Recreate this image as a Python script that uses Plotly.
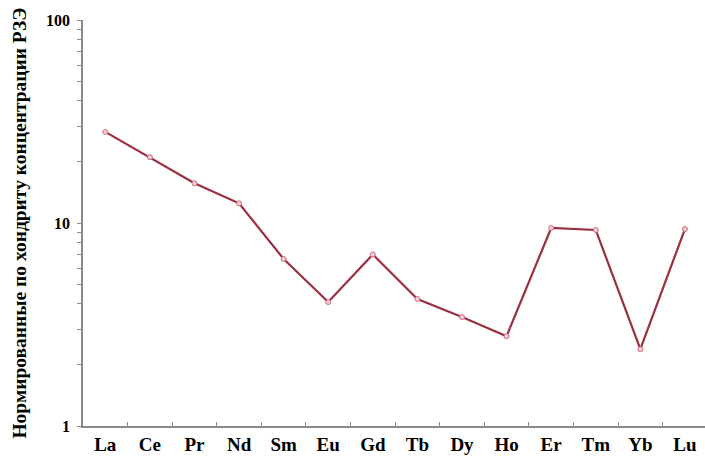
import plotly.graph_objects as go

# Rare earth elements, chondrite-normalised concentrations
elements = ["La", "Ce", "Pr", "Nd", "Sm", "Eu", "Gd", "Tb", "Dy", "Ho", "Er", "Tm", "Yb", "Lu"]
normalized = [28.1, 21.1, 15.7, 12.5, 6.65, 4.08, 7.0, 4.22, 3.44, 2.77, 9.45, 9.24, 2.39, 9.34]

# log-axis ticks: labels only on the decades
y_tickvals = [1, 2, 3, 4, 5, 6, 7, 8, 9, 10, 20, 30, 40, 50, 60, 70, 80, 90, 100]
y_ticktext = ["1", "", "", "", "", "", "", "", "", "10", "", "", "", "", "", "", "", "", "100"]

y_title = "Нормированные по хондриту концентрации РЗЭ"

serif = "Liberation Serif, Times New Roman, serif"
axis_grey = "#8a8a8a"

fig = go.Figure()
fig.add_trace(go.Scatter(
    x=elements,
    y=normalized,
    mode="lines+markers",
    line=dict(color="#9a2f40", width=2.2),
    marker=dict(size=5, color="#f4cdd2", line=dict(color="#c8707e", width=1)),
    showlegend=False,
))

fig.update_layout(
    width=705,
    height=465,
    margin=dict(l=83, r=0, t=20, b=39),
    paper_bgcolor="white",
    plot_bgcolor="white",
    font=dict(family=serif, color="black"),
    xaxis=dict(
        type="category",
        range=[-0.5, 13.45],
        showgrid=False,
        zeroline=False,
        showline=True,
        linecolor=axis_grey,
        linewidth=1.5,
        ticks="inside",
        tickson="boundaries",
        ticklen=4,
        tickcolor=axis_grey,
        tickfont=dict(family=serif, size=19, color="black", weight="bold"),
    ),
    yaxis=dict(
        type="log",
        range=[0, 2],
        showgrid=False,
        zeroline=False,
        showline=True,
        linecolor=axis_grey,
        linewidth=1.5,
        ticks="outside",
        ticklen=4,
        tickcolor=axis_grey,
        tickvals=y_tickvals,
        ticktext=y_ticktext,
        ticklabelstandoff=4,
        tickfont=dict(family=serif, size=16, color="black", weight="bold"),
        title=dict(
            text=y_title,
            font=dict(family=serif, size=19.5, color="black", weight="bold"),
            standoff=14,
        ),
    ),
)

fig.write_html("out.html")
